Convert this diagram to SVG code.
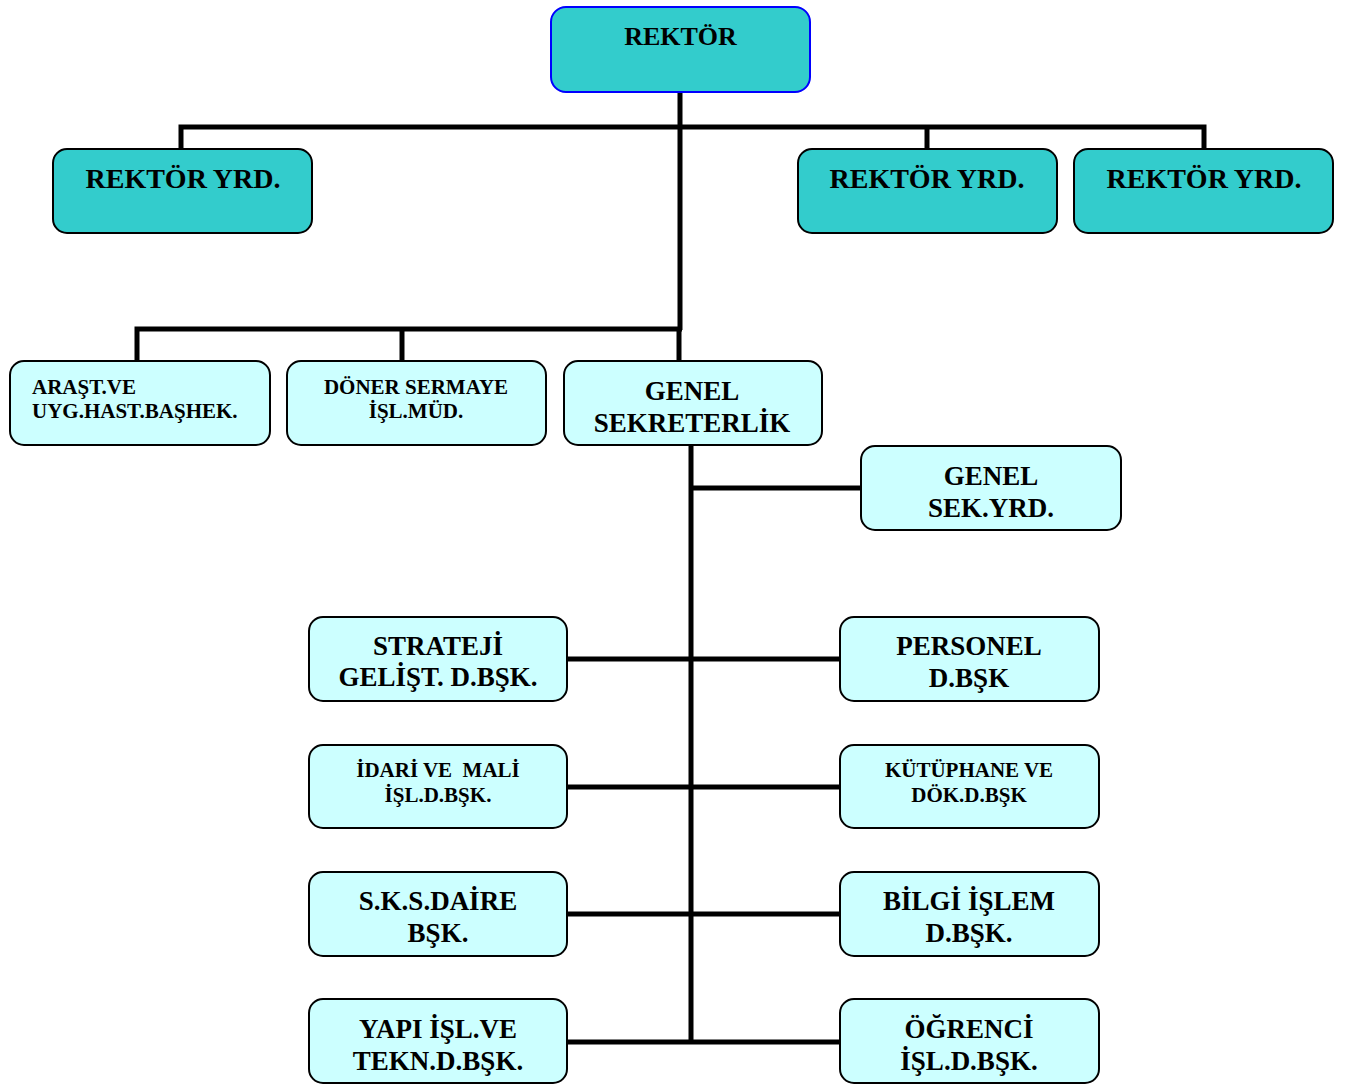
<svg xmlns="http://www.w3.org/2000/svg" width="1346" height="1084" viewBox="0 0 1346 1084">
<style>
.top{fill:#33CCCC;stroke:#000;stroke-width:2}
.unit{fill:#CCFFFF;stroke:#000;stroke-width:2}
.root{fill:#33CCCC;stroke:#0000FF;stroke-width:2}
text{font-family:"Liberation Serif","Times New Roman",serif;font-weight:bold;fill:#000;text-anchor:middle}
.big{font-size:27px}
.sm{font-size:21px}
.con{fill:none;stroke:#000;stroke-width:5;stroke-linejoin:miter;stroke-linecap:butt}
</style>
<rect width="1346" height="1084" fill="#fff"/>
<g id="connectors">
<path class="con" d="M680 92 V330"/>
<path class="con" d="M181 149 V127 H1204 V149"/>
<path class="con" d="M927 127 V149"/>
<path class="con" d="M137 361 V329 H682"/>
<path class="con" d="M402 329 V361"/>
<path class="con" d="M679 329 V361"/>
<path class="con" d="M691 445 V1044"/>
<path class="con" d="M691 488 H861"/>
<path class="con" d="M567 659 H840"/>
<path class="con" d="M567 787 H840"/>
<path class="con" d="M567 914 H840"/>
<path class="con" d="M567 1042 H840"/>
</g>
<g id="rektor">
<rect class="root" x="551" y="7" width="259" height="85" rx="15"/>
<text class="big" x="680.5" y="45" style="font-size:26px">REKTÖR</text>
</g>
<g id="yrd1">
<rect class="top" x="53" y="149" width="259" height="84" rx="14"/>
<text class="big" x="183" y="188" style="font-size:28px">REKTÖR YRD.</text>
</g>
<g id="yrd2">
<rect class="top" x="798" y="149" width="259" height="84" rx="14"/>
<text class="big" x="927" y="188" style="font-size:28px">REKTÖR YRD.</text>
</g>
<g id="yrd3">
<rect class="top" x="1074" y="149" width="259" height="84" rx="14"/>
<text class="big" x="1204" y="188" style="font-size:28px">REKTÖR YRD.</text>
</g>
<g id="arast">
<rect class="unit" x="10" y="361" width="260" height="84" rx="14"/>
<text class="sm" x="32" y="394" style="text-anchor:start">ARAŞT.VE</text>
<text class="sm" x="32" y="418" style="text-anchor:start">UYG.HAST.BAŞHEK.</text>
</g>
<g id="doner">
<rect class="unit" x="287" y="361" width="259" height="84" rx="14"/>
<text class="sm" x="416" y="394">DÖNER SERMAYE</text>
<text class="sm" x="416" y="418">İŞL.MÜD.</text>
</g>
<g id="genelsek">
<rect class="unit" x="564" y="361" width="258" height="84" rx="14"/>
<text class="big" x="692" y="400">GENEL</text>
<text class="big" x="692" y="432">SEKRETERLİK</text>
</g>
<g id="genelsekyrd">
<rect class="unit" x="861" y="446" width="260" height="84" rx="14"/>
<text class="big" x="991" y="485">GENEL</text>
<text class="big" x="991" y="517">SEK.YRD.</text>
</g>
<g id="strateji">
<rect class="unit" x="309" y="617" width="258" height="84" rx="14"/>
<text class="big" x="438" y="655">STRATEJİ</text>
<text class="big" x="438" y="686">GELİŞT. D.BŞK.</text>
</g>
<g id="personel">
<rect class="unit" x="840" y="617" width="259" height="84" rx="14"/>
<text class="big" x="969" y="655">PERSONEL</text>
<text class="big" x="969" y="687">D.BŞK</text>
</g>
<g id="idari">
<rect class="unit" x="309" y="745" width="258" height="83" rx="14"/>
<text class="sm" x="438" y="777" xml:space="preserve">İDARİ VE  MALİ</text>
<text class="sm" x="438" y="802">İŞL.D.BŞK.</text>
</g>
<g id="kutuphane">
<rect class="unit" x="840" y="745" width="259" height="83" rx="14"/>
<text class="sm" x="969" y="777">KÜTÜPHANE VE</text>
<text class="sm" x="969" y="802">DÖK.D.BŞK</text>
</g>
<g id="sks">
<rect class="unit" x="309" y="872" width="258" height="84" rx="14"/>
<text class="big" x="438" y="910">S.K.S.DAİRE</text>
<text class="big" x="438" y="942">BŞK.</text>
</g>
<g id="bilgi">
<rect class="unit" x="840" y="872" width="259" height="84" rx="14"/>
<text class="big" x="969" y="910">BİLGİ İŞLEM</text>
<text class="big" x="969" y="942">D.BŞK.</text>
</g>
<g id="yapi">
<rect class="unit" x="309" y="999" width="258" height="84" rx="14"/>
<text class="big" x="438" y="1038">YAPI İŞL.VE</text>
<text class="big" x="438" y="1070">TEKN.D.BŞK.</text>
</g>
<g id="ogrenci">
<rect class="unit" x="840" y="999" width="259" height="84" rx="14"/>
<text class="big" x="969" y="1038">ÖĞRENCİ</text>
<text class="big" x="969" y="1070">İŞL.D.BŞK.</text>
</g>
</svg>
